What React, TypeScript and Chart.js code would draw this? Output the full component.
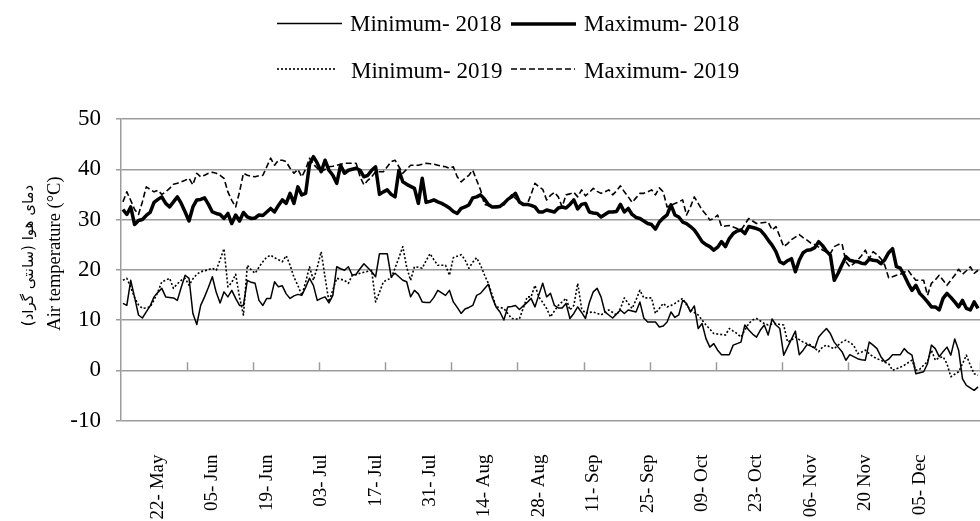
import React, { useEffect, useRef } from 'react';
import { Chart, registerables } from 'chart.js';

Chart.register(...registerables);

// ---- data ----
const tickLabels = ['22- May', '05- Jun', '19- Jun', '03- Jul', '17- Jul', '31- Jul', '14- Aug', '28- Aug', '11- Sep', '25- Sep', '09- Oct', '23- Oct', '06- Nov', '20 Nov', '05- Dec'];
const firstLabelDay = 9;   // 22 May is the 10th day (series starts 13 May)
const labelStep = 14;      // a label every 14 days
const tickMarkStep = 17;   // axis tick marks every 17 days

const seriesNames = ['Minimum- 2018', 'Maximum- 2018', 'Minimum- 2019', 'Maximum- 2019'];

const min2018 = [
  13.3, 12.9, 17.9, 14.5, 11, 10.4, 11.6, 12.8, 14.6, 15.5,
  16.3, 14.6, 14.5, 14.4, 13.9, 16.5, 18.9, 18.3, 11.3, 9.1,
  12.9, 14.6, 16.5, 18.6, 15.5, 13.4, 15.6, 14.6, 15.9, 14.3,
  12.9, 12.9, 17.9, 17.5, 17.3, 13.9, 12.9, 14.3, 14.3, 17.6,
  16.6, 16.8, 15.2, 14.3, 14.8, 15.1, 14.9, 16.5, 18.3, 16.9,
  13.9, 14.3, 14.6, 13.4, 14.9, 20.6, 20.2, 19.9, 20.6, 18.9,
  19.1, 20.2, 21.2, 20.4, 19.6, 18.6, 23.2, 23.2, 23.2, 18.6,
  19.3, 18.6, 17.9, 17.6, 14.6, 15.9, 15.2, 13.6, 13.5, 13.5,
  14.5, 15.9, 15.4, 14.9, 15.9, 13.6, 12.5, 11.3, 12.2, 12.5,
  12.9, 14.9, 15.3, 16.2, 17.1, 14.5, 12.6, 11.6, 10, 12.6,
  12.7, 12.9, 12.1, 12.8, 13.5, 14.3, 12.6, 15, 17.3, 14.6,
  15.3, 12.9, 12.4, 12.4, 13.3, 10.3, 11.3, 12.6, 11.5, 10.3,
  13.5, 15.6, 16.3, 14.6, 11.6, 11, 10.4, 11.2, 12, 11.3,
  12, 11.8, 11.6, 13.6, 10.4, 9.6, 9.6, 9.6, 8.6, 8.8,
  9.6, 11.6, 10.5, 11, 13.9, 13.3, 11.6, 12.8, 8.3, 9.3,
  6.3, 4.6, 5.3, 4, 3.1, 3.1, 3.1, 5, 5.3, 5.6,
  9, 8, 7.2, 6.6, 8, 9, 7, 10.2, 9, 8.3,
  3, 4.6, 6.2, 7.8, 3.1, 4, 5.1, 4.8, 4.4, 6.6,
  7.5, 8.3, 7.3, 5.6, 4.6, 3.7, 2, 3.1, 2.7, 2.3,
  2.1, 2, 5.6, 5, 4.3, 2.7, 1.7, 2.2, 3.1, 3.1,
  3.1, 4.3, 3.5, 3, -0.7, -0.5, -0.3, 1.3, 5, 4.3,
  2.7, 3.7, 4.6, 3, 6.2, 4, -1.7, -3, -3.5, -4, -3.3,
];

const max2018 = [
  32, 31, 32.5, 29, 29.8, 30, 30.8, 31.4, 33.4, 34,
  34.5, 33.2, 32.5, 33.5, 34.5, 33.2, 31.5, 29.7, 32.5, 33.9,
  34, 34.3, 33, 31.5, 31.2, 31, 30.2, 31.2, 29.2, 30.9,
  29.7, 31.4, 30.5, 30.2, 30.3, 30.9, 30.8, 31.5, 32.2, 31.5,
  32.8, 33.9, 33.2, 35.2, 33.2, 36.5, 34.9, 35.2, 41, 42.5,
  41.2, 39.5, 41.8, 39.8, 38.8, 37.2, 40.8, 39.2, 39.8, 40,
  40.2, 39.8, 38.5, 38.8, 39.8, 40.5, 35, 35.5, 35.9, 35,
  34.5, 39.8, 37.5, 37, 36.6, 36.2, 33.2, 38.2, 33.4, 33.6,
  33.9, 33.5, 33.2, 32.8, 32.3, 31.6, 31.2, 32.2, 32.5, 32.9,
  34.3, 34.5, 34.9, 34.1, 33, 32.5, 32.5, 32.6, 33.2, 34,
  34.5, 35.2, 33.5, 33, 33, 32.8, 32.5, 31.5, 31.5, 31.9,
  31.7, 31.5, 32.3, 32.5, 32.3, 33, 33.9, 32.1, 33, 33.2,
  31.5, 31.3, 31.2, 30.5, 31, 31.5, 31.5, 31.6, 33, 31.5,
  32.2, 31, 30.4, 30.2, 29.7, 29.2, 29, 28.1, 29.5, 30.3,
  30.9, 32.9, 30.9, 30.5, 29.5, 29.2, 28.6, 27.9, 26.8, 25.6,
  25, 24.6, 23.9, 24.5, 25.6, 24.6, 26.2, 27.2, 27.7, 27.9,
  27.2, 28.6, 28.4, 28.2, 27.9, 27, 25.9, 24.9, 23.6, 21.6,
  21.2, 21.8, 22.2, 19.6, 21.9, 23.4, 23.9, 24, 24.4, 25.6,
  24.8, 23.7, 22.9, 17.9, 19.3, 21, 22.6, 21.9, 21.7, 21.6,
  21.3, 21.2, 22.1, 21.9, 21.8, 21.2, 22, 23.4, 24.2, 20.6,
  20.3, 18.9, 17.3, 15.9, 16.9, 15.3, 14.5, 13.6, 12.6, 12.6,
  12, 14.3, 15.3, 14.5, 13.6, 12.6, 13.9, 12.3, 12, 13.6, 12.3,
];

const min2019 = [
  17.9, 18.3, 16.5, 14.5, 13, 12.3, 12.4, 12.6, 14, 15.6,
  17.6, 17.9, 18.3, 16.3, 17.2, 17.9, 18.3, 16.9, 18.2, 19.1,
  19.6, 19.8, 20, 20.3, 19.9, 22, 24.2, 16.6, 17.5, 19.1,
  14.5, 11, 20.9, 20, 19.3, 20.5, 21.6, 22.5, 22.9, 22.4,
  22, 21.6, 22.8, 20.9, 18.5, 16.9, 14.9, 17.5, 20.6, 17.9,
  20.5, 23.6, 18.5, 13.6, 16, 18.3, 18.1, 17.9, 17.3, 18.9,
  19, 19.3, 19.5, 19.7, 19.9, 13.6, 15.5, 17.6, 18, 18.3,
  20.3, 22.4, 24.6, 20.5, 17.9, 20.6, 20.5, 20.3, 21.8, 23.2,
  22, 20.9, 20.9, 20.9, 18.9, 22.4, 22.7, 23, 22, 20.3,
  21.5, 22.4, 20.9, 19, 17.3, 15, 12.6, 12.5, 12.3, 11.3,
  10.3, 10.2, 10.2, 12.4, 14.6, 14.6, 16.9, 14.6, 13.5, 12.3,
  10.6, 11.8, 12.9, 13.6, 14.3, 12, 12.9, 17.3, 12.3, 11.3,
  11.5, 11.6, 11.3, 11, 11.5, 12, 11.5, 11, 12.3, 14.4,
  13.3, 12.3, 14, 15.9, 14.4, 14.4, 14.4, 11.3, 12.3, 13.3,
  12.6, 12.9, 13.3, 13.8, 14.3, 13, 12, 11.5, 11, 10,
  9, 8.2, 7.3, 7.2, 7.1, 7, 8.3, 7.8, 7.3, 6.6,
  8, 9.3, 10, 10.3, 9.8, 9.3, 9, 9.2, 9.3, 9.1,
  9, 5.6, 6, 6.6, 6.1, 5.6, 5.3, 5, 4.4, 3.7,
  4.6, 5, 4.6, 4.3, 5, 5.6, 6, 5.5, 5, 3.3,
  3.6, 4, 3.3, 2.7, 2.3, 2, 1.6, 1.3, 0, 0.3,
  0.6, 1, 1.5, 2, 0, 0.2, 1, 1.7, 4, 2,
  2.5, 2.7, 1.3, -1.3, -0.8, -0.3, 1.3, 3, 1, -0.7, -1,
];

const max2019 = [
  33.5, 35.5, 33.8, 32, 31, 33.5, 36.5, 36, 35.5, 35.8,
  35, 35.5, 36.2, 37, 37.2, 37.5, 37.8, 38.2, 36.9, 39.2,
  38.5, 38.8, 39.2, 39.4, 39.2, 38.8, 38.2, 35.5, 33.8, 32.5,
  35.5, 39.2, 38.8, 38.6, 38.5, 38.7, 38.8, 40.5, 42.2, 40.8,
  41.8, 41.8, 41.5, 40.2, 39.2, 40, 38.5, 40, 42.2, 41,
  40.2, 39.5, 40, 40.5, 40.6, 40.8, 41, 41.2, 41.2, 41.2,
  41.2, 38.5, 36.9, 37.8, 38.5, 39.5, 39.5, 39.5, 40.5, 41.5,
  41.8, 40.5, 39.2, 40, 40.8, 40.8, 40.8, 41, 41.2, 41.1,
  41, 40.8, 40.6, 40.5, 40.2, 40.5, 38.5, 37.5, 38.2, 38.8,
  39.8, 37.8, 35.9, 33, 32.8, 32.5, 32.7, 32.8, 32.9, 34,
  34.9, 34.2, 33.5, 33.2, 33, 35, 37.2, 36.5, 36, 33.9,
  34.8, 35.4, 34.5, 32.5, 34.9, 35.1, 35.4, 34.5, 35.9, 34.7,
  35.4, 36.2, 35.6, 35.2, 35.5, 35.9, 34.9, 35.7, 36.7, 35.5,
  34.5, 33.4, 34.3, 35.2, 35.2, 35.5, 35.9, 34.9, 36.3, 35.5,
  32.5, 32.8, 33.2, 33.5, 33.9, 30.9, 32.5, 34.5, 33.2, 31.9,
  31, 29.9, 30.2, 30.9, 28.6, 28.7, 28.8, 28.5, 28.2, 27.9,
  29, 30.2, 29.7, 29.2, 29.3, 29.4, 29.5, 27.9, 28.6, 26.6,
  24.6, 25.2, 26, 26.5, 27, 26.4, 25.9, 25.3, 25, 24.5,
  23.9, 23.5, 23.2, 24.6, 25, 25.2, 21.6, 20.6, 21.2, 21.9,
  22.8, 23.9, 22.2, 23.6, 23, 22.2, 20.9, 18.4, 18.6, 18.9,
  19.1, 19.5, 19.9, 18.8, 17.9, 17.9, 17.9, 14.9, 17.3, 18,
  18.9, 17.9, 16.9, 17.9, 18.9, 20.1, 19.1, 19.8, 20.6, 19.3, 19.9,
];

const yMin = -10;
const yMax = 50;
const yStep = 10;
const yTitleEn = 'Air temperature (°C)';
const yTitleFa = 'دمای هوا (سانتی گراد)';

// ---- styling ----
const SERIF = "'Liberation Serif', 'Times New Roman', serif";
const GRID = '#9c9c9c';

const days = min2018.map((_, i) => String(i));

const legendPlugin = {
  id: 'twoRowLegend',
  afterDraw(chart: any) {
    const ctx = chart.ctx;
    const rows = [
      { ds: 0, x: 277, len: 65, y: 23.5, tx: 350, ty: 25 },
      { ds: 1, x: 511, len: 65, y: 24, tx: 584, ty: 25 },
      { ds: 2, x: 277, len: 58, y: 69, tx: 351, ty: 71.5 },
      { ds: 3, x: 511, len: 64, y: 69, tx: 584, ty: 71.5 },
    ];
    ctx.save();
    rows.forEach((r) => {
      const d = chart.data.datasets[r.ds];
      ctx.strokeStyle = d.borderColor;
      ctx.lineWidth = d.borderWidth;
      ctx.setLineDash(d.borderDash || []);
      ctx.lineCap = 'butt';
      ctx.beginPath();
      ctx.moveTo(r.x, r.y);
      ctx.lineTo(r.x + r.len, r.y);
      ctx.stroke();
      ctx.setLineDash([]);
      ctx.fillStyle = '#000';
      ctx.font = `23px ${SERIF}`;
      ctx.textAlign = 'left';
      ctx.textBaseline = 'middle';
      ctx.fillText(d.label, r.tx, r.ty);
    });
    ctx.restore();
  },
};

// small inward tick marks on the 0 line, at category boundaries every 17 days
const zeroAxisTicks = {
  id: 'zeroAxisTicks',
  beforeDatasetsDraw(chart: any) {
    const xs = chart.scales.x;
    const ys = chart.scales.y;
    const ctx = chart.ctx;
    const y0 = ys.getPixelForValue(0);
    const half = (xs.getPixelForValue(1) - xs.getPixelForValue(0)) / 2;
    ctx.save();
    ctx.strokeStyle = GRID;
    ctx.lineWidth = 1.5;
    for (let i = tickMarkStep; i <= days.length; i += tickMarkStep) {
      const x = Math.round(xs.getPixelForValue(i - 1) + half) + 0.5;
      ctx.beginPath();
      ctx.moveTo(x, y0);
      ctx.lineTo(x, y0 - 8);
      ctx.stroke();
    }
    ctx.restore();
  },
};

export default function App() {
  const canvasRef = useRef<HTMLCanvasElement | null>(null);

  useEffect(() => {
    document.body.style.margin = '0';
    const canvas = canvasRef.current;
    if (!canvas) return;
    const mk = (label: string, data: number[], width: number, dash: number[]) => ({
      label,
      data,
      borderColor: '#000',
      backgroundColor: '#000',
      borderWidth: width,
      borderDash: dash,
      borderJoinStyle: 'round' as const,
      pointRadius: 0,
      pointHoverRadius: 0,
      tension: 0,
      fill: false,
    });
    const chart = new Chart(canvas, {
      type: 'line',
      data: {
        labels: days,
        datasets: [
          mk(seriesNames[0], min2018, 1.5, []),
          mk(seriesNames[1], max2018, 3.5, []),
          mk(seriesNames[2], min2019, 1.6, [2, 2]),
          mk(seriesNames[3], max2019, 1.6, [6, 3]),
        ],
      },
      options: {
        animation: false,
        responsive: false,
        devicePixelRatio: 1,
        layout: { padding: { top: 119, left: 0, right: 0, bottom: 0 } },
        plugins: {
          legend: { display: false },
          tooltip: { enabled: false },
        },
        scales: {
          x: {
            type: 'category',
            offset: true,
            grid: { display: false },
            border: { display: false },
            ticks: {
              autoSkip: false,
              minRotation: 90,
              maxRotation: 90,
              padding: 26,
              color: '#000',
              font: { family: SERIF, size: 19 },
              callback: (_v: any, index: number) => {
                const k = (index - firstLabelDay) / labelStep;
                return index >= firstLabelDay && Number.isInteger(k) && k < tickLabels.length ? tickLabels[k] : '';
              },
            },
            afterFit: (s: any) => {
              s.height = 100.5;
              s.paddingLeft = 0;
              s.paddingRight = 0;
            },
          },
          y: {
            type: 'linear',
            position: 'left',
            weight: 0,
            min: yMin,
            max: yMax,
            ticks: { stepSize: yStep, padding: 15, color: '#000', font: { family: SERIF, size: 23 } },
            grid: { color: GRID, lineWidth: 1.5, tickLength: 5, tickColor: GRID, tickWidth: 1.5 },
            border: { display: true, color: GRID, width: 1.5 },
            title: {
              display: true,
              text: '       ' + yTitleEn,
              color: '#000',
              font: { family: SERIF, size: 18.5 },
              padding: { top: 4.5, bottom: 0 },
            },
            afterFit: (s: any) => { s.width = 81; },
          },
          yFa: {
            type: 'linear',
            position: 'left',
            axis: 'y',
            weight: 1,
            min: yMin,
            max: yMax,
            ticks: { display: false },
            grid: { display: false },
            border: { display: false },
            title: {
              display: true,
              text: '      \u200F' + yTitleFa + '\u200F',
              color: '#000',
              font: { family: "'DejaVu Sans', sans-serif", size: 15 },
              padding: { top: 20, bottom: 0 },
            },
            afterFit: (s: any) => { s.width = 40; },
          },
        },
      } as any,
      plugins: [zeroAxisTicks, legendPlugin],
    });
    return () => chart.destroy();
  }, []);

  return (
    <div style={{ width: 980, height: 521 }}>
      <canvas ref={canvasRef} width={980} height={521} style={{ display: 'block' }} />
    </div>
  );
}
